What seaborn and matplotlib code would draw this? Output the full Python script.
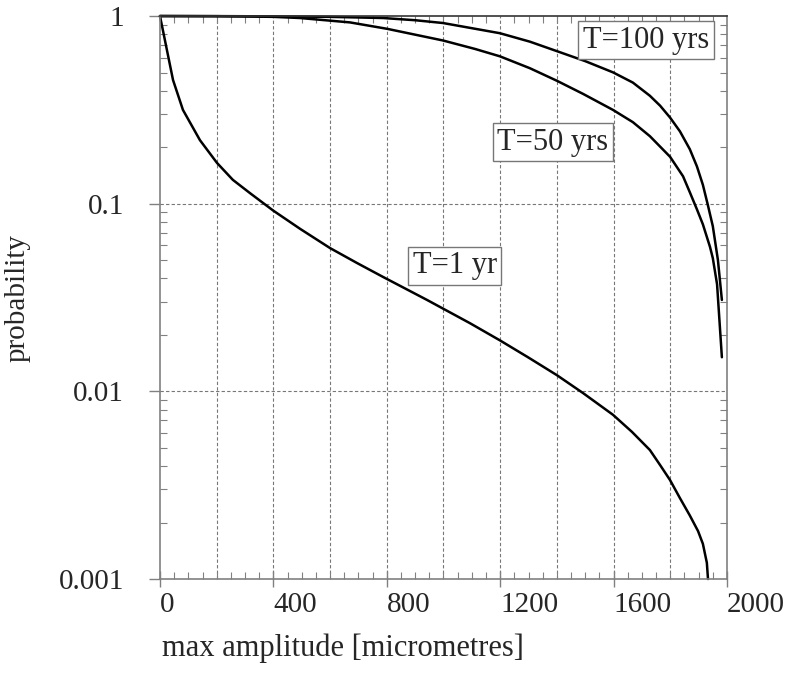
import numpy as np
import pandas as pd
import seaborn as sns
import matplotlib.pyplot as plt
from matplotlib.ticker import FixedLocator, MultipleLocator, LogLocator, NullFormatter

# values (amplitude in micrometres, probability)
amp_1yr = [0, 4, 8, 24, 46, 81, 141, 201, 257, 317, 399, 494, 600, 695, 787, 942,
           1093, 1199, 1298, 1400, 1492, 1598, 1665, 1728, 1764, 1799, 1834,
           1869, 1898, 1915, 1929, 1933]
prob_1yr = [1.0, 0.933, 0.873, 0.664, 0.456, 0.316, 0.218, 0.165, 0.134, 0.114,
            0.092, 0.0735, 0.058, 0.0483, 0.0407, 0.0307, 0.0231, 0.0187, 0.0152,
            0.0122, 0.0098, 0.0075, 0.00608, 0.00487, 0.00405, 0.00337,
            0.0027, 0.00218, 0.0018, 0.00154, 0.00122, 0.001]

amp_50yr = [0, 200, 300, 400, 494, 670, 801, 998, 1111, 1199, 1305, 1400, 1492,
            1598, 1668, 1728, 1799, 1845, 1869, 1894, 1915, 1940, 1950, 1965,
            1982]
prob_50yr = [1.0, 0.998, 0.995, 0.99, 0.976, 0.925, 0.855, 0.741, 0.668, 0.610,
             0.527, 0.452, 0.385, 0.316, 0.272, 0.229, 0.178, 0.140, 0.115,
             0.0933, 0.0776, 0.0589, 0.0513, 0.0372, 0.0152]

amp_100yr = [0, 200, 400, 600, 787, 900, 998, 1199, 1305, 1400, 1500, 1598, 1668,
             1728, 1764, 1799, 1834, 1869, 1894, 1915, 1933, 1950, 1968, 1982]
prob_100yr = [1.0, 0.999, 0.996, 0.99, 0.976, 0.95, 0.918, 0.81, 0.73, 0.65,
              0.575, 0.501, 0.442, 0.376, 0.333, 0.288, 0.243, 0.195, 0.158,
              0.126, 0.0977, 0.0759, 0.0501, 0.0307]

series_labels = ["T=1 yr", "T=50 yrs", "T=100 yrs"]
label_pos = [(1040, 0.0466), (1386, 0.213), (1714, 0.745)]

x_ticks = [0, 400, 800, 1200, 1600, 2000]
y_ticks = [0.001, 0.01, 0.1, 1]
y_ticklabels = ["0.001", "0.01", "0.1", "1"]

df = pd.concat([
    pd.DataFrame({"amp": amp_1yr, "prob": prob_1yr, "series": series_labels[0]}),
    pd.DataFrame({"amp": amp_50yr, "prob": prob_50yr, "series": series_labels[1]}),
    pd.DataFrame({"amp": amp_100yr, "prob": prob_100yr, "series": series_labels[2]}),
])

sns.set_style("ticks")
plt.rcParams["font.family"] = ["Liberation Serif", "DejaVu Serif"]

fig = plt.figure(figsize=(7.94, 6.74), dpi=100)
ax = fig.add_axes([0.2015, 0.1409, 0.7141, 0.8353])

sns.lineplot(data=df, x="amp", y="prob", hue="series", palette=["black"] * 3,
             estimator=None, sort=False, legend=False, linewidth=1.8, ax=ax)
for line in ax.lines:
    line.set_clip_on(False)
    line.set_solid_joinstyle("round")

ax.set_yscale("log")
ax.set_xlim(0, 2000)
ax.set_ylim(0.001, 1)

# grid
for gx in range(200, 2000, 200):
    ax.axvline(gx, color="#777777", lw=0.8, ls=(0, (3, 2)), zorder=0)
for gy in [0.01, 0.1]:
    ax.axhline(gy, color="#777777", lw=0.8, ls=(0, (3, 2)), zorder=0)

ax.xaxis.set_major_locator(FixedLocator(x_ticks))
ax.xaxis.set_minor_locator(MultipleLocator(50))
ax.set_xticklabels([str(t) for t in x_ticks])
ax.yaxis.set_major_locator(FixedLocator(y_ticks))
ax.yaxis.set_minor_locator(LogLocator(base=10, subs=np.arange(2, 10)))
ax.yaxis.set_minor_formatter(NullFormatter())
ax.set_yticklabels(y_ticklabels)

ax.tick_params(axis="x", which="major", direction="inout", length=11, width=1,
               color="#808080", labelsize=21, pad=4, top=False)
ax.tick_params(axis="x", which="minor", direction="in", length=5, width=0.8,
               color="#808080", top=True)
ax.tick_params(axis="y", which="major", direction="out", length=8, width=1,
               color="#808080", labelsize=21, pad=18)
ax.tick_params(axis="y", which="minor", direction="in", length=5, width=0.8,
               color="#808080", right=True)
for lab in ax.get_xticklabels():
    lab.set_ha("left")

for s in ax.spines.values():
    s.set_color("#808080")
    s.set_linewidth(1.2)
ax.spines["top"].set_color("#333333")

for text, (tx, ty) in zip(series_labels, label_pos):
    ax.text(tx, ty, text, fontsize=22, ha="center", va="center",
            bbox=dict(boxstyle="square,pad=0.15", fc="white", ec="#777777", lw=1))

ax.set_xlabel("max amplitude [micrometres]", fontsize=22)
ax.xaxis.set_label_coords(0.323, -0.096)
ax.set_ylabel("probability", fontsize=21)
ax.yaxis.set_label_coords(-0.228, 0.5)

fig.savefig("out.png", dpi=100)
